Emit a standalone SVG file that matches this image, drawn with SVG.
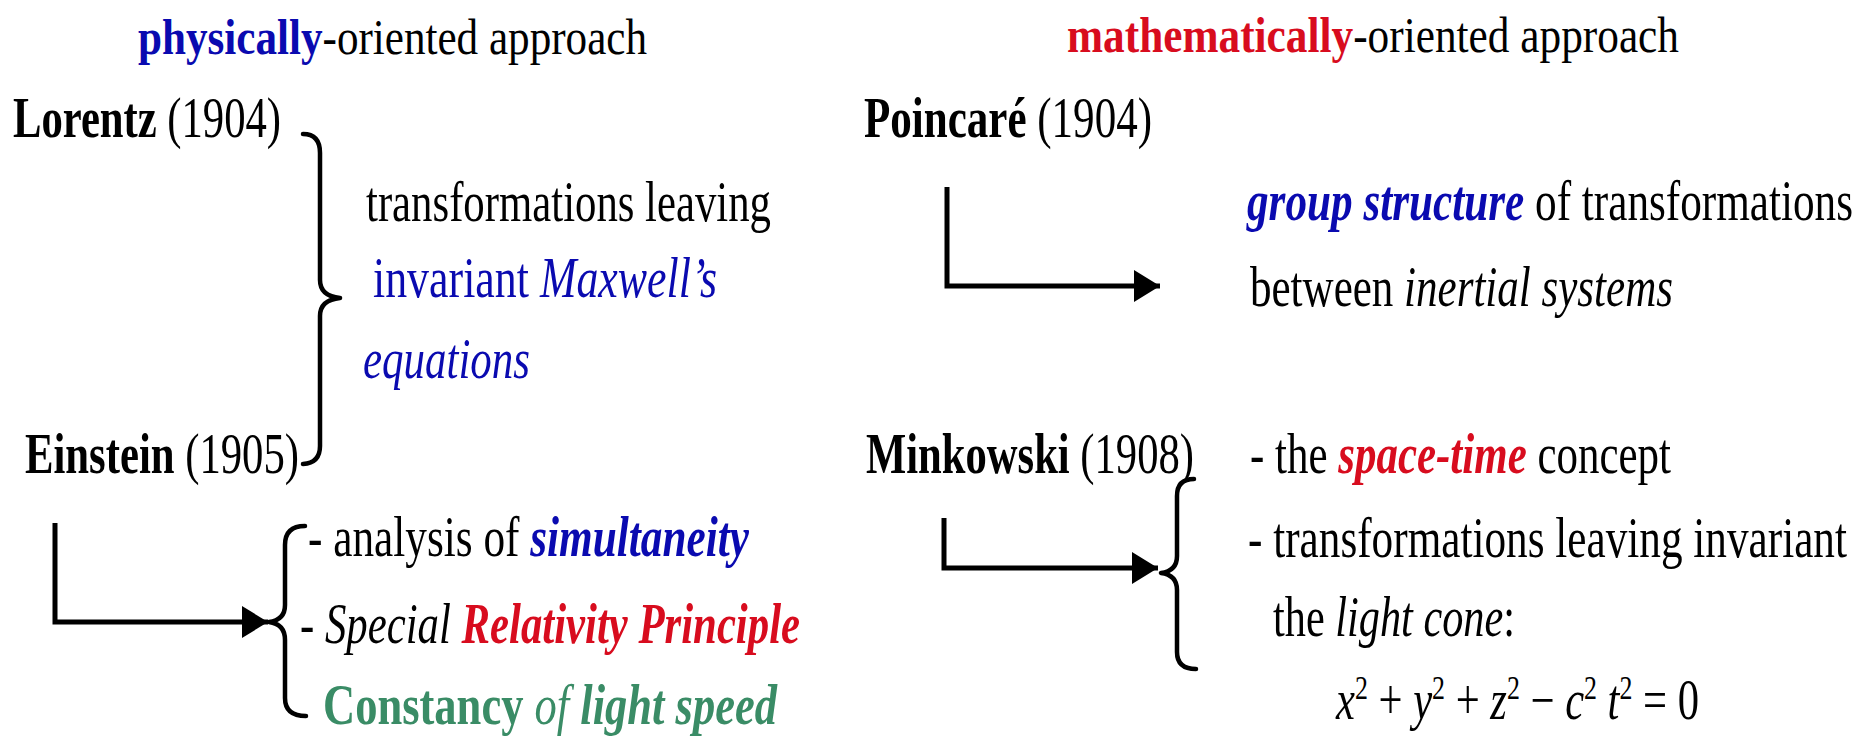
<svg xmlns="http://www.w3.org/2000/svg" width="1864" height="737" viewBox="0 0 1864 737">
<style>
text{font-family:"Liberation Serif","Times New Roman",serif;font-size:56px;fill:#000}
.t{font-size:51px}
.b{font-weight:bold}
.i{font-style:italic}
.blue{fill:#0a0ab0}
.red{fill:#d80c1e}
.green{fill:#3a8c66}
.line{fill:none;stroke:#000;stroke-width:5;stroke-linejoin:miter}
.brace{fill:none;stroke:#000;stroke-width:4.5;stroke-linecap:round;stroke-linejoin:round}
</style>
<defs>
<marker id="arr" markerUnits="userSpaceOnUse" markerWidth="30" markerHeight="36" refX="26" refY="16" orient="auto">
<path d="M0,0 L26,16 L0,32 Z" fill="#000"/>
</marker>
</defs>
<rect width="1864" height="737" fill="#fff"/>

<g id="connectors">
<path class="line" d="M55,523 V622 H268" marker-end="url(#arr)"/>
<path class="line" d="M947,187 V286 H1160" marker-end="url(#arr)"/>
<path class="line" d="M944,518 V568 H1158" marker-end="url(#arr)"/>
<path class="brace" d="M303,134 Q320,134 320,153 L320,280 Q320,296 340,298 Q320,300 320,316 L320,446 Q320,463 303,464"/>
<path class="brace" d="M305,526 Q285,526 285,545 L285,605 Q285,620 269,622 Q285,624 285,640 L285,698 Q285,716 306,716"/>
<path class="brace" d="M1194,479 Q1177,479 1177,496 L1177,556 Q1177,571 1161,573 Q1177,575 1177,590 L1177,652 Q1177,669 1196,669"/>
</g>

<g id="header-physical">
<text class="t" x="138" y="54" textLength="509" lengthAdjust="spacingAndGlyphs"><tspan class="b blue">physically</tspan>-oriented approach</text>
</g>
<g id="header-math">
<text class="t" x="1067" y="52" textLength="612" lengthAdjust="spacingAndGlyphs"><tspan class="b red">mathematically</tspan>-oriented approach</text>
</g>

<g id="lorentz">
<text x="13" y="137" textLength="268" lengthAdjust="spacingAndGlyphs"><tspan class="b">Lorentz</tspan> (1904)</text>
</g>
<g id="einstein">
<text x="25" y="473" textLength="274" lengthAdjust="spacingAndGlyphs"><tspan class="b">Einstein</tspan> (1905)</text>
</g>
<g id="maxwell-invariance">
<text x="366" y="221" textLength="405" lengthAdjust="spacingAndGlyphs">transformations leaving</text>
<text x="373" y="297" textLength="344" lengthAdjust="spacingAndGlyphs" class="blue">invariant <tspan class="i">Maxwell’s</tspan></text>
<text x="363" y="378" textLength="167" lengthAdjust="spacingAndGlyphs" class="i blue">equations</text>
</g>
<g id="einstein-results">
<text x="308" y="556" textLength="441" lengthAdjust="spacingAndGlyphs">- analysis of <tspan class="b i blue">simultaneity</tspan></text>
<text x="300" y="643" textLength="500" lengthAdjust="spacingAndGlyphs">- <tspan class="i">Special</tspan> <tspan class="b i red">Relativity Principle</tspan></text>
<text x="323" y="724" textLength="454" lengthAdjust="spacingAndGlyphs" class="green"><tspan class="b">Constancy</tspan> <tspan class="i">of</tspan> <tspan class="b i">light speed</tspan></text>
</g>

<g id="poincare">
<text x="864" y="137" textLength="288" lengthAdjust="spacingAndGlyphs"><tspan class="b">Poincaré</tspan> (1904)</text>
</g>
<g id="group-structure">
<text x="1247" y="220" textLength="606" lengthAdjust="spacingAndGlyphs"><tspan class="b i blue">group structure</tspan> of transformations</text>
<text x="1250" y="306" textLength="423" lengthAdjust="spacingAndGlyphs">between <tspan class="i">inertial systems</tspan></text>
</g>
<g id="minkowski">
<text x="866" y="473" textLength="328" lengthAdjust="spacingAndGlyphs"><tspan class="b">Minkowski</tspan> (1908)</text>
</g>
<g id="minkowski-results">
<text x="1250" y="473" textLength="421" lengthAdjust="spacingAndGlyphs">- the <tspan class="b i red">space-time</tspan> concept</text>
<text x="1248" y="557" textLength="599" lengthAdjust="spacingAndGlyphs">- transformations leaving invariant</text>
<text x="1273" y="636" textLength="242" lengthAdjust="spacingAndGlyphs">the <tspan class="i">light cone</tspan>:</text>
<text x="1336" y="719" textLength="363" lengthAdjust="spacingAndGlyphs"><tspan class="i">x</tspan><tspan dy="-20" font-size="34">2</tspan><tspan dy="20"> + </tspan><tspan class="i">y</tspan><tspan dy="-20" font-size="34">2</tspan><tspan dy="20"> + </tspan><tspan class="i">z</tspan><tspan dy="-20" font-size="34">2</tspan><tspan dy="20"> − </tspan><tspan class="i">c</tspan><tspan dy="-20" font-size="34">2</tspan><tspan dy="20"> </tspan><tspan class="i">t</tspan><tspan dy="-20" font-size="34">2</tspan><tspan dy="20"> = 0</tspan></text>
</g>
</svg>
